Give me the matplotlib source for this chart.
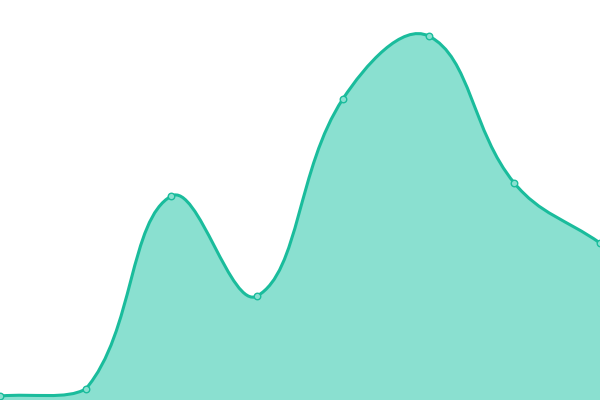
import numpy as np
import matplotlib
matplotlib.use("Agg")
import matplotlib.pyplot as plt
from matplotlib.path import Path
from matplotlib.patches import PathPatch

# data (y measured from bottom of plot area)
labels = ["1", "2", "3", "4", "5", "6", "7", "8"]
values = [4, 11, 204, 104, 301, 364, 217, 157]

LINE = "#1abc9c"
FILL = "#8ae0d0"
W, H = 600, 400


def control_points(xs, ys, t=0.4):
    # chart.js style spline with tension
    n = len(xs)
    prev_cp, next_cp = [], []
    for i in range(n):
        p0 = (xs[max(i - 1, 0)], ys[max(i - 1, 0)])
        p1 = (xs[i], ys[i])
        p2 = (xs[min(i + 1, n - 1)], ys[min(i + 1, n - 1)])
        d01 = np.hypot(p1[0] - p0[0], p1[1] - p0[1])
        d12 = np.hypot(p2[0] - p1[0], p2[1] - p1[1])
        tot = d01 + d12
        s01 = d01 / tot if tot else 0
        s12 = d12 / tot if tot else 0
        fa, fb = t * s01, t * s12
        prev_cp.append((p1[0] - fa * (p2[0] - p0[0]), p1[1] - fa * (p2[1] - p0[1])))
        next_cp.append((p1[0] + fb * (p2[0] - p0[0]), p1[1] + fb * (p2[1] - p0[1])))
    # keep inside chart area
    prev_cp = [(min(max(x, 0), W), min(max(y, 0), H)) for x, y in prev_cp]
    next_cp = [(min(max(x, 0), W), min(max(y, 0), H)) for x, y in next_cp]
    return prev_cp, next_cp


xs = np.linspace(0, W, len(values))
ys = np.array(values, dtype=float)
pc, nc = control_points(xs, ys)

verts = [(xs[0], ys[0])]
codes = [Path.MOVETO]
for i in range(1, len(xs)):
    verts += [nc[i - 1], pc[i], (xs[i], ys[i])]
    codes += [Path.CURVE4] * 3

fill_verts = verts + [(xs[-1], 0), (xs[0], 0), (xs[0], ys[0])]
fill_codes = codes + [Path.LINETO, Path.LINETO, Path.CLOSEPOLY]

fig = plt.figure(figsize=(6, 4), dpi=100)
ax = fig.add_axes([0, 0, 1, 1])
ax.add_patch(PathPatch(Path(fill_verts, fill_codes), facecolor=FILL, edgecolor="none"))
ax.add_patch(PathPatch(Path(verts, codes), facecolor="none", edgecolor=LINE, lw=2.2,
                       capstyle="round", joinstyle="round"))
ax.scatter(xs, ys, s=22, facecolor=FILL, edgecolor=LINE, linewidths=1, zorder=3, clip_on=False)
ax.set_xlim(0, W)
ax.set_ylim(0, H)
ax.axis("off")
fig.savefig("out.png", dpi=100)
